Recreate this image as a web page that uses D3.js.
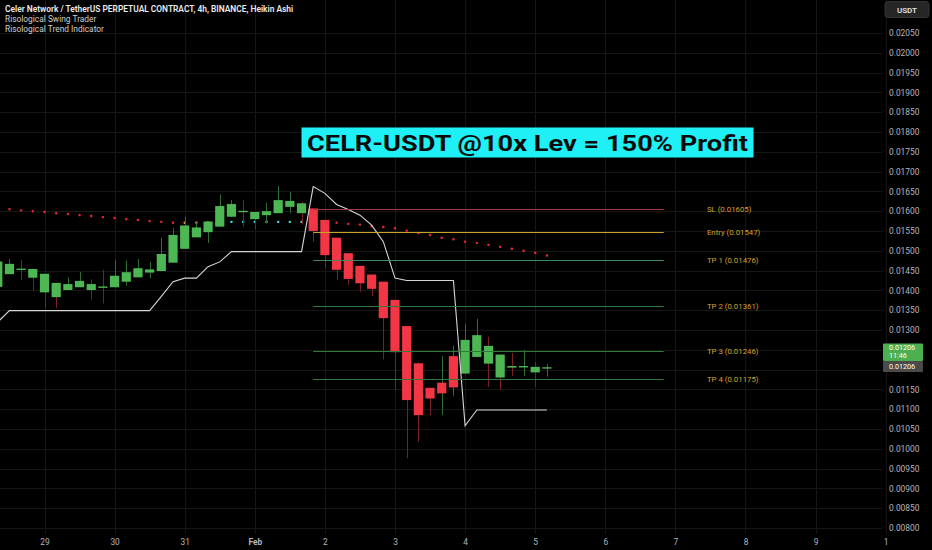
<!DOCTYPE html>
<html><head><meta charset="utf-8">
<script src="https://cdn.jsdelivr.net/npm/d3@7/dist/d3.min.js"></script>
<style>
html,body{margin:0;padding:0;background:#000;}
svg{display:block;font-family:Roboto,"Noto Sans",sans-serif;}
</style></head><body>
<svg id="c" width="932" height="550"></svg>
<script>
// ---------- data ----------
const firstIndex = -22; // 4h candles counted from Feb 1 00:00
const opens  = [0.01409,0.01441,0.01452,0.01432,0.01395,0.01383,0.01401,0.01408,0.01401,0.01408,0.01408,0.01422,0.01433,0.01445,0.01449,0.01470,0.01505,0.01534,0.01547,0.01561,0.01586,0.01600,0.01580,0.01590,0.01595,0.01611,0.01595,0.01607,0.01578,0.01533,0.01494,0.01462,0.01440,0.01422,0.01376,0.01310,0.01216,0.01154,0.01167,0.01234,0.01190,0.01232,0.01215,0.01180,0.01205,0.01207,0.01193,0.01205];
const highs  = [0.01480,0.01479,0.01477,0.01454,0.01442,0.01419,0.01433,0.01446,0.01428,0.01452,0.01477,0.01475,0.01479,0.01472,0.01533,0.01557,0.01586,0.01571,0.01574,0.01642,0.01628,0.01628,0.01598,0.01621,0.01664,0.01648,0.01624,0.01607,0.01578,0.01533,0.01494,0.01462,0.01440,0.01422,0.01376,0.01310,0.01216,0.01154,0.01234,0.01260,0.01316,0.01328,0.01283,0.01238,0.01242,0.01250,0.01219,0.01214];
const lows   = [0.01395,0.01441,0.01426,0.01399,0.01355,0.01356,0.01401,0.01408,0.01376,0.01367,0.01408,0.01412,0.01433,0.01431,0.01449,0.01470,0.01505,0.01534,0.01520,0.01561,0.01586,0.01561,0.01554,0.01569,0.01595,0.01595,0.01566,0.01523,0.01456,0.01426,0.01414,0.01397,0.01386,0.01226,0.01148,0.00976,0.01018,0.01085,0.01085,0.01134,0.01190,0.01232,0.01156,0.01150,0.01184,0.01184,0.01156,0.01182];
const closes = [0.01473,0.01467,0.01455,0.01454,0.01442,0.01419,0.01416,0.01424,0.01416,0.01410,0.01437,0.01446,0.01456,0.01453,0.01492,0.01540,0.01564,0.01559,0.01574,0.01613,0.01618,0.01601,0.01598,0.01600,0.01628,0.01626,0.01620,0.01550,0.01489,0.01452,0.01429,0.01418,0.01404,0.01330,0.01244,0.01123,0.01085,0.01127,0.01140,0.01155,0.01275,0.01287,0.01260,0.01238,0.01209,0.01209,0.01207,0.01206];
const wickDir = ["u","u","d","d","d","d","u","u","d","d","u","u","u","u","u","u","u","u","u","u","u","d","d","u","u","u","d","d","d","d","d","d","d","d","d","d","d","d","u","u","u","u","d","d","d","u","d","u"];
const trendLine = [0.01320,0.01349,0.01349,0.01349,0.01349,0.01349,0.01349,0.01349,0.01349,0.01349,0.01349,0.01349,0.01349,0.01349,0.01385,0.01422,0.01431,0.01431,0.01460,0.01472,0.01498,0.01498,0.01498,0.01498,0.01498,0.01498,0.01498,0.01662,0.01645,0.01617,0.01604,0.01590,0.01565,0.01523,0.01431,0.01425,0.01425,0.01425,0.01425,0.01425,0.01058,0.01098,0.01098,0.01098,0.01098,0.01098,0.01098,0.01098];
const swingDots = [0.01607,0.01605,0.01602,0.01600,0.01598,0.01595,0.01593,0.01590,0.01588,0.01585,0.01583,0.01580,0.01578,0.01575,0.01573,0.01571,0.01571,0.01571,0.01572,0.01572,0.01573,0.01573,0.01573,0.01573,0.01573,0.01573,0.01573,0.01572,0.01572,0.01571,0.01568,0.01566,0.01562,0.01560,0.01557,0.01551,0.01545,0.01540,0.01533,0.01529,0.01523,0.01520,0.01515,0.01510,0.01505,0.01500,0.01495,0.01488];
const swingState = ["r","r","r","r","r","r","r","r","r","r","r","r","r","r","r","r","o","o","o","c","c","c","c","c","c","c","c","r","r","r","r","r","r","r","r","r","r","r","r","r","r","r","r","r","r","r","r","r"];
const levelNames  = ["SL","Entry","TP 1","TP 2","TP 3","TP 4"];
const levelValues = [0.01605,0.01547,0.01476,0.01361,0.01246,0.01175];
const levelStartIndex = 5, levelEndIndex = 35, levelLabelIndex = 38.7;
const priceTicks = d3.range(0.0080, 0.02051, 0.0005);
const dayTickLabels = ["29","30","31","Feb","2","3","4","5","6","7","8","9","1"];
const dayTickDates = dayTickLabels.map((_, i) => new Date(Date.UTC(2023, 0, 29 + i)));
const lastPrice = 0.01206, countdown = "11:46";
const headerLines = ["Celer Network / TetherUS PERPETUAL CONTRACT, 4h, BINANCE, Heikin Ashi","Risological Swing Trader","Risological Trend Indicator"];
const titleText = "CELR-USDT @10x Lev = 150% Profit";

// ---------- scales ----------
const svg = d3.select("#c");
const H4 = 4 * 3600 * 1000;
const t0 = Date.UTC(2023, 1, 1);
const x = d3.scaleTime().domain([new Date(t0), new Date(t0 + 24 * 3600 * 1000)]).range([254.8, 324.9]);
const y = d3.scaleLinear().domain([0.0080, 0.0205]).range([528, 33]);
const xi = k => x(new Date(t0 + k * H4));
const candles = opens.map((o, i) => ({k: firstIndex + i, o, h: highs[i], l: lows[i], c: closes[i], w: wickDir[i], t: trendLine[i], s: swingDots[i], st: swingState[i]}));
const bodyW = 9.2;

svg.append("rect").attr("width", 932).attr("height", 550).attr("fill", "#000");

// grid
const grid = svg.append("g");
grid.selectAll("line.h").data(priceTicks).join("line")
  .attr("x1", 0).attr("x2", 882).attr("y1", d => Math.round(y(d)) + 0.5).attr("y2", d => Math.round(y(d)) + 0.5)
  .attr("stroke", "#161616").attr("stroke-width", 1);
grid.selectAll("line.v").data(dayTickDates).join("line")
  .attr("x1", d => Math.round(x(d)) + 0.5).attr("x2", d => Math.round(x(d)) + 0.5).attr("y1", 0).attr("y2", 534)
  .attr("stroke", "#161616").attr("stroke-width", 1);

// header text
svg.append("g").selectAll("text").data(headerLines).join("text")
  .attr("x", 5).attr("y", (d, i) => 11.5 + i * 10)
  .attr("font-size", 8.4).attr("font-weight", (d, i) => i === 0 ? 600 : 400)
  .attr("fill", (d, i) => i === 0 ? "#ececec" : "#cfcfcf")
  .text(d => d);

// swing dots (behind candles)
const dotColor = {r: "#e3262f", o: "#e58a2c", c: "#3ad6d6"};
svg.append("g").selectAll("rect").data(candles).join("rect")
  .attr("x", d => xi(d.k) - 1.2).attr("y", d => y(d.s) - 1.2).attr("width", 2.4).attr("height", 2.4).attr("rx", 0.8)
  .attr("fill", d => dotColor[d.st]);

// wicks
svg.append("g").selectAll("line").data(candles).join("line")
  .attr("x1", d => Math.round(xi(d.k)) + 0.5).attr("x2", d => Math.round(xi(d.k)) + 0.5)
  .attr("y1", d => y(d.h)).attr("y2", d => y(d.l))
  .attr("stroke", d => d.w === "u" ? "#2f6e33" : "#7a1f27").attr("stroke-width", 1);

// bodies
svg.append("g").selectAll("rect").data(candles).join("rect")
  .attr("x", d => xi(d.k) - bodyW / 2).attr("width", bodyW)
  .attr("y", d => y(Math.max(d.o, d.c)))
  .attr("height", d => Math.max(1.4, Math.abs(y(d.o) - y(d.c))))
  .attr("fill", d => d.c >= d.o ? "#4cb753" : "#f23645");

// trend line
svg.append("path").datum(candles)
  .attr("d", d3.line().x(d => xi(d.k)).y(d => y(d.t)))
  .attr("fill", "none").attr("stroke", "#d6d6d6").attr("stroke-width", 1.1);

// levels
const levelColor = ["#a23a4a", "#c9a227", "#3b8a66", "#2f7a3a", "#2f7a3a", "#2f7a3a"];
const lv = svg.append("g");
lv.selectAll("line").data(levelValues).join("line")
  .attr("x1", xi(levelStartIndex)).attr("x2", xi(levelEndIndex))
  .attr("y1", d => Math.round(y(d)) + 0.5).attr("y2", d => Math.round(y(d)) + 0.5)
  .attr("stroke", (d, i) => levelColor[i]).attr("stroke-width", 1);
lv.selectAll("text").data(levelValues).join("text")
  .attr("x", xi(levelLabelIndex)).attr("y", d => y(d)).attr("dy", "0.35em")
  .attr("font-size", 7.8).attr("fill", "#d6a12a")
  .text((d, i) => `${levelNames[i]} (${d.toFixed(5)})`);

// title box
const tg = svg.append("g");
tg.append("rect").attr("x", 301.5).attr("y", 127.5).attr("width", 452).attr("height", 30).attr("fill", "#1ff0f5");
tg.append("text").attr("x", 527.5).attr("y", 150.5).attr("text-anchor", "middle")
  .attr("font-size", 22).attr("font-weight", 700).attr("fill", "#0b0b0b")
  .attr("textLength", 441).attr("lengthAdjust", "spacingAndGlyphs")
  .text(titleText);

// price axis (labels hidden under the last-price tags are not drawn, as in the reference)
const boxTop = 343.5, boxBottom = 372;
const shownTicks = priceTicks.filter(v => y(v) < boxTop - 3 || y(v) > boxBottom + 3);
const ya = svg.append("g").attr("transform", "translate(870,0)")
  .call(d3.axisRight(y).tickValues(shownTicks).tickFormat(d3.format(".5f")).tickSize(0).tickPadding(19));
ya.select(".domain").remove();
ya.selectAll("text").attr("fill", "#b2b5be").attr("font-size", 8.4).attr("font-family", "Roboto,'Noto Sans',sans-serif");

// time axis
const xa = svg.append("g").attr("transform", "translate(0,536)")
  .call(d3.axisBottom(x).tickValues(dayTickDates).tickFormat((d, i) => dayTickLabels[i]).tickSize(0).tickPadding(3));
xa.select(".domain").remove();
xa.selectAll("text").attr("fill", "#b2b5be").attr("font-size", 8.4).attr("font-family", "Roboto,'Noto Sans',sans-serif")
  .attr("font-weight", (d, i) => dayTickLabels[i] === "Feb" ? 700 : 400);

// last price labels
const lp = svg.append("g");
lp.append("rect").attr("x", 883).attr("y", boxTop).attr("width", 40).attr("height", 17.5).attr("fill", "#4caf50").attr("rx", 1);
lp.append("text").attr("x", 889).attr("y", 349.6).attr("font-size", 7.2).attr("fill", "#fff").text(lastPrice.toFixed(5));
lp.append("text").attr("x", 889).attr("y", 358.4).attr("font-size", 7.2).attr("fill", "#fff").text(countdown);
lp.append("rect").attr("x", 883).attr("y", 361).attr("width", 40).attr("height", boxBottom - 361).attr("fill", "#4a4a4a").attr("rx", 1);
lp.append("text").attr("x", 889).attr("y", 369.2).attr("font-size", 7.2).attr("fill", "#fff").text(lastPrice.toFixed(5));

// currency button
svg.append("rect").attr("x", 885).attr("y", 1.5).attr("width", 44).attr("height", 16).attr("rx", 3).attr("fill", "#262626").attr("stroke", "#333");
svg.append("text").attr("x", 907).attr("y", 12.5).attr("text-anchor", "middle").attr("font-size", 8).attr("font-weight", 600).attr("fill", "#e0e0e0").text("USDT");
</script>
</body></html>
